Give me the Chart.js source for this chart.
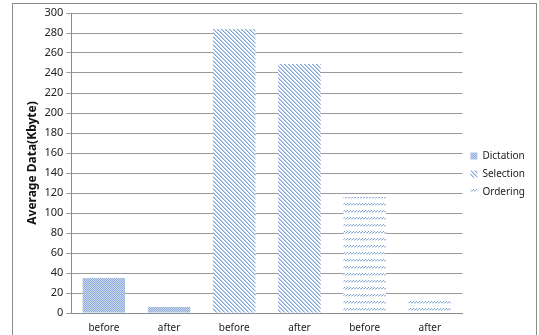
<!DOCTYPE html>
<html>
<head>
<meta charset="utf-8">
<script src="https://cdn.jsdelivr.net/npm/chart.js@4"></script>
<style>
  html, body { margin: 0; padding: 0; background: #fff; }
  #wrap { width: 539px; height: 335px; position: relative; }
</style>
</head>
<body>
<div id="wrap"><canvas id="chart"></canvas></div>
<script>
// Data
const categories = ["before", "after", "before", "after", "before", "after"];
const dictation = [35, 6, null, null, null, null];
const selection = [null, null, 284, 249, null, null];
const ordering = [null, null, null, null, 116, 13];
const yTicks = [0, 20, 40, 60, 80, 100, 120, 140, 160, 180, 200, 220, 240, 260, 280, 300];

// hatch fills like the office chart patterns
function makePattern(kind) {
  const c = document.createElement("canvas");
  const g = c.getContext("2d");
  if (kind === "dots") {
    c.width = 2; c.height = 2;
    g.fillStyle = "#c9d8ee";
    g.fillRect(0, 0, 2, 2);
    g.fillStyle = "#8eaddb";
    g.fillRect(0, 0, 1, 1);
    g.fillRect(1, 1, 1, 1);
  } else if (kind === "back") {
    c.width = 4; c.height = 4;
    g.fillStyle = "#ffffff";
    g.fillRect(0, 0, 4, 4);
    g.fillStyle = "#7ea2d3";
    for (let i = 0; i < 4; i++) {
      g.fillRect(i, i, 1, 1);
    }
    g.fillStyle = "#c3d4ec";
    for (let i = 0; i < 4; i++) {
      g.fillRect((i + 1) % 4, i, 1, 1);
    }
  } else {
    c.width = 3; c.height = 7;
    g.fillStyle = "#ffffff";
    g.fillRect(0, 0, 3, 7);
    g.fillStyle = "#7ea2d3";
    g.fillRect(2, 0, 1, 1);
    g.fillRect(1, 1, 1, 1);
    g.fillStyle = "#c3d4ec";
    g.fillRect(0, 1, 1, 1);
    g.fillRect(0, 2, 1, 1);
  }
  return g.createPattern(c, "repeat");
}

const frame = {
  id: "frame",
  afterDraw(chart) {
    const ctx = chart.ctx;
    ctx.save();
    ctx.strokeStyle = "#8c8c8c";
    ctx.lineWidth = 1;
    ctx.strokeRect(12.5, 3.5, 524, 340);
    ctx.restore();
  }
};

new Chart(document.getElementById("chart"), {
  type: "bar",
  data: {
    labels: categories,
    datasets: [
      { label: "Dictation", data: dictation, backgroundColor: makePattern("dots") },
      { label: "Selection", data: selection, backgroundColor: makePattern("back") },
      { label: "Ordering", data: ordering, backgroundColor: makePattern("fwd") }
    ]
  },
  options: {
    responsive: true,
    maintainAspectRatio: false,
    animation: false,
    layout: { padding: { left: 23, top: 13, right: 4, bottom: 0 } },
    datasets: { bar: { barPercentage: 0.65, categoryPercentage: 1 } },
    plugins: {
      legend: {
        position: "right",
        align: "center",
        labels: {
          boxWidth: 7,
          boxHeight: 7,
          padding: 8,
          color: "#222",
          font: { family: "Noto Sans", size: 10 }
        }
      },
      tooltip: { enabled: false }
    },
    scales: {
      x: {
        stacked: true,
        grid: { display: false },
        border: { color: "#8c8c8c" },
        ticks: { color: "#222", font: { family: "Noto Sans", size: 10 }, padding: 1 }
      },
      y: {
        min: 0,
        max: 300,
        afterBuildTicks: (axis) => { axis.ticks = yTicks.map(v => ({ value: v })); },
        grid: { color: "#9a9a9a", tickLength: 5 },
        border: { color: "#8c8c8c" },
        ticks: { color: "#222", font: { family: "Noto Sans", size: 11 }, padding: 3 },
        title: {
          display: true,
          text: "Average Data(Kbyte)",
          color: "#111",
          font: { family: "Noto Sans", size: 12, weight: "bold" },
          padding: 2
        }
      }
    }
  },
  plugins: [frame]
});
</script>
</body>
</html>
